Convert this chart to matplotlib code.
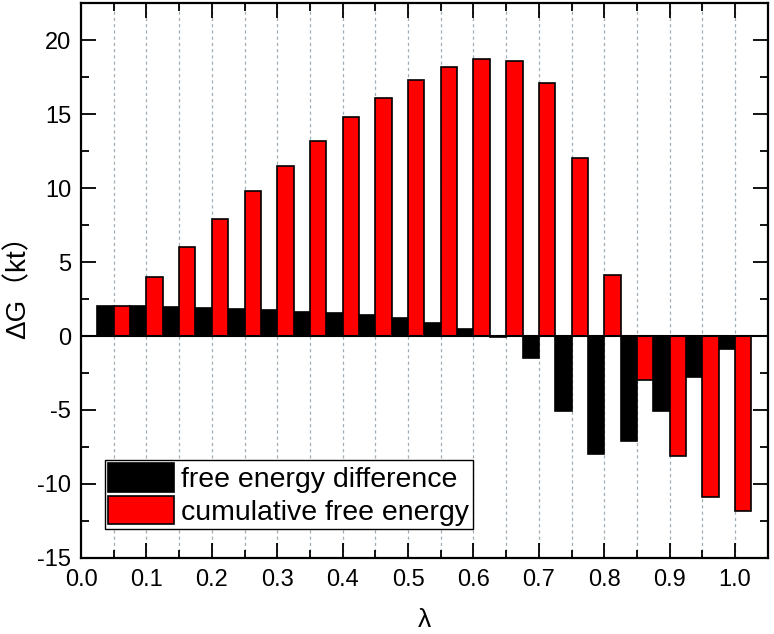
import numpy as np
import matplotlib
matplotlib.use("Agg")
import matplotlib.pyplot as plt
from matplotlib.ticker import MultipleLocator

plt.rcParams['font.family'] = ['Liberation Sans', 'Noto Sans CJK SC', 'DejaVu Sans']
plt.rcParams['axes.unicode_minus'] = False

lam = [0.05, 0.10, 0.15, 0.20, 0.25, 0.30, 0.35, 0.40, 0.45, 0.50,
       0.55, 0.60, 0.65, 0.70, 0.75, 0.80, 0.85, 0.90, 0.95, 1.00]
diff = [2.0, 2.0, 1.95, 1.9, 1.85, 1.75, 1.65, 1.55, 1.4, 1.2,
        0.9, 0.5, -0.1, -1.5, -5.1, -8.0, -7.1, -5.1, -2.8, -0.9]
cumul = [2.0, 4.0, 6.0, 7.9, 9.8, 11.5, 13.2, 14.8, 16.1, 17.3,
         18.2, 18.7, 18.6, 17.1, 12.0, 4.1, -3.0, -8.1, -10.9, -11.8]
xticks = [0.0, 0.1, 0.2, 0.3, 0.4, 0.5, 0.6, 0.7, 0.8, 0.9, 1.0]

fig = plt.figure(figsize=(7.74, 6.34), dpi=100)
ax = fig.add_axes([0.1047, 0.12, 0.8873, 0.875])

w = 0.025
x = np.array(lam)
ax.bar(x - w / 2, diff, width=w, color='black', edgecolor='black', linewidth=1.2,
       label='free energy difference', zorder=2)
ax.bar(x + w / 2, cumul, width=w, color='#ff0000', edgecolor='black', linewidth=1.2,
       label='cumulative free energy', zorder=2)
ax.axhline(0, color='black', linewidth=1.5, zorder=3)

# dotted guide at every lambda window
for xv in lam:
    ax.axvline(xv, color='#a0aeb8', linestyle=(0, (2.5, 2.5)), linewidth=0.9, zorder=1)

ax.set_xlim(0, 1.05)
ax.set_ylim(-15, 22.5)
ax.set_xticks(xticks)
ax.set_xticklabels([f'{v:.1f}' for v in xticks])
ax.xaxis.set_minor_locator(MultipleLocator(0.05))
ax.yaxis.set_major_locator(MultipleLocator(5))
ax.yaxis.set_minor_locator(MultipleLocator(2.5))
ax.tick_params(which='both', direction='in', top=True, right=True, labelsize=17, width=1.3)
ax.tick_params(which='major', length=11)
ax.tick_params(which='minor', length=6)
ax.tick_params(axis='x', pad=8)
ax.tick_params(axis='y', pad=7)
for s in ax.spines.values():
    s.set_linewidth(1.6)

ax.set_xlabel('λ', fontsize=19, labelpad=12)
ax.set_ylabel('ΔG（kt）', fontsize=20, labelpad=4)

leg = ax.legend(loc='lower left', bbox_to_anchor=(0.035, 0.052), borderaxespad=0,
                fontsize=20.5, handlelength=2.3, handleheight=1.15, labelspacing=0.1,
                handletextpad=0.25, borderpad=0.12, fancybox=False, framealpha=1,
                edgecolor='black')
leg.get_frame().set_linewidth(1.0)

fig.savefig('out.png', dpi=100)
